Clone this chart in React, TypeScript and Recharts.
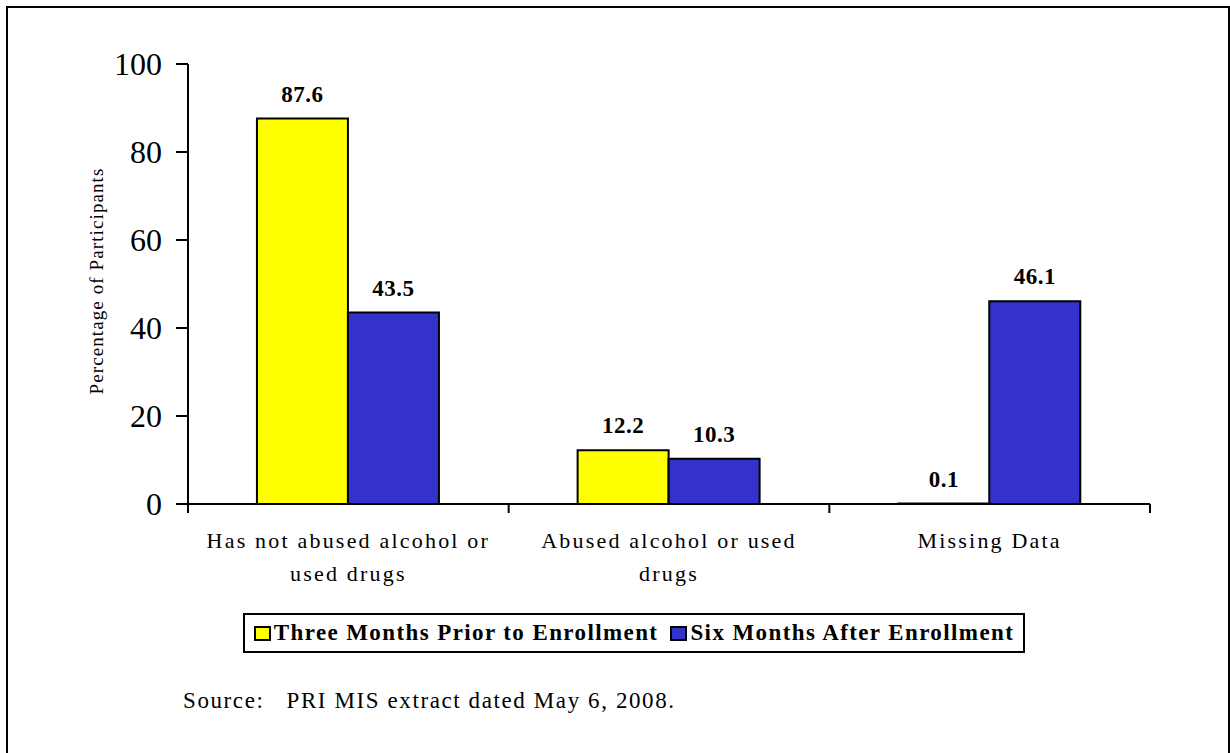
import React from 'react';
import { BarChart, Bar, XAxis, YAxis, LabelList } from 'recharts';

const categories = ['Has not abused alcohol or used drugs', 'Abused alcohol or used drugs', 'Missing Data'];
const categoryLines = [
  ['Has not abused alcohol or', 'used drugs'],
  ['Abused alcohol or used', 'drugs'],
  ['Missing Data'],
];
const threeMonthsPrior = [87.6, 12.2, 0.1];
const sixMonthsAfter = [43.5, 10.3, 46.1];
const yTicks = [0, 20, 40, 60, 80, 100];

const series = [
  { key: 'prior', name: 'Three Months Prior to Enrollment', color: '#ffff00' },
  { key: 'after', name: 'Six Months After Enrollment', color: '#3333cc' },
];

const data = categories.map((name, i) => ({
  name,
  prior: threeMonthsPrior[i],
  after: sixMonthsAfter[i],
}));

const serif = '"Liberation Serif", "Times New Roman", serif';
const W = 1230;
const H = 753;
// x axis adds its own 30px height below the bottom margin
const margin = { top: 64, right: 80, bottom: 219, left: 0 };
const yAxisWidth = 188;
const bandWidth = (W - margin.right - yAxisWidth) / categories.length;

const CategoryTick = (props: any) => {
  const { x, y, index } = props;
  const lines = categoryLines[index] || [];
  const left = x - bandWidth / 2;
  return (
    <g>
      <line x1={left} y1={y - 8} x2={left} y2={y + 1} stroke="#000" strokeWidth={2} />
      {index === categories.length - 1 && (
        <line x1={left + bandWidth} y1={y - 8} x2={left + bandWidth} y2={y + 1} stroke="#000" strokeWidth={2} />
      )}
      {lines.map((line, i) => (
        <text
          key={i}
          x={x}
          y={y + 36 + i * 33}
          textAnchor="middle"
          fontFamily={serif}
          fontSize={22}
          letterSpacing={2.2}
          fill="#000"
        >
          {line}
        </text>
      ))}
    </g>
  );
};

const YLabel = (props: any) => {
  const { viewBox } = props;
  const cy = viewBox.y + viewBox.height / 2 - 3;
  return (
    <text
      x={103}
      y={cy}
      transform={`rotate(-90, 103, ${cy})`}
      textAnchor="middle"
      fontFamily={serif}
      fontSize={19}
      letterSpacing={1.1}
      fill="#000"
    >
      Percentage of Participants
    </text>
  );
};

const labelStyle = { fontFamily: serif, fontWeight: 'bold', fontSize: 23, letterSpacing: 0.5, fill: '#000' } as const;

export default function App() {
  return (
    <div style={{ position: 'absolute', left: 0, top: 0, width: W, height: H, background: '#fff', overflow: 'hidden' }}>
      <div
        style={{
          position: 'absolute',
          left: 6,
          top: 6,
          width: 1220,
          height: 760,
          border: '2px solid #000',
        }}
      />
      <div style={{ position: 'absolute', left: 0, top: 0 }}>
        <BarChart width={W} height={H} data={data} margin={margin} barCategoryGap="21.5%" barGap={0}>
          <XAxis
            dataKey="name"
            axisLine={{ stroke: '#000', strokeWidth: 2 }}
            tickLine={false}
            tick={<CategoryTick />}
            interval={0}
          />
          <YAxis
            width={yAxisWidth}
            domain={[0, 100]}
            ticks={yTicks}
            axisLine={{ stroke: '#000', strokeWidth: 2 }}
            tickLine={{ stroke: '#000', strokeWidth: 2 }}
            tickSize={12}
            tick={{ fontFamily: serif, fontSize: 32, fill: '#000' }}
            tickMargin={14}
            label={<YLabel />}
          />
          {series.map((s) => (
            <Bar
              key={s.key}
              dataKey={s.key}
              name={s.name}
              fill={s.color}
              stroke="#000"
              strokeWidth={2}
              isAnimationActive={false}
            >
              <LabelList dataKey={s.key} position="top" offset={17} style={labelStyle} />
            </Bar>
          ))}
        </BarChart>
      </div>
      <div
        style={{
          position: 'absolute',
          left: 243,
          top: 613,
          width: 778,
          height: 36,
          border: '2px solid #000',
          display: 'flex',
          alignItems: 'center',
          justifyContent: 'center',
          fontFamily: serif,
          fontWeight: 'bold',
          fontSize: 23,
          letterSpacing: 1.4,
          color: '#000',
          whiteSpace: 'nowrap',
        }}
      >
        {series.map((s, i) => (
          <span key={s.key} style={{ display: 'flex', alignItems: 'center', marginRight: i === 0 ? 12 : 0 }}>
            <span
              style={{
                display: 'inline-block',
                width: 13,
                height: 11,
                background: s.color,
                border: '2px solid #000',
                marginRight: 3,
              }}
            />
            {s.name}
          </span>
        ))}
      </div>
      <div
        style={{
          position: 'absolute',
          left: 183,
          top: 688,
          fontFamily: serif,
          fontSize: 23,
          letterSpacing: 1.6,
          color: '#000',
          whiteSpace: 'pre',
        }}
      >
        {'Source:   PRI MIS extract dated May 6, 2008.'}
      </div>
    </div>
  );
}
